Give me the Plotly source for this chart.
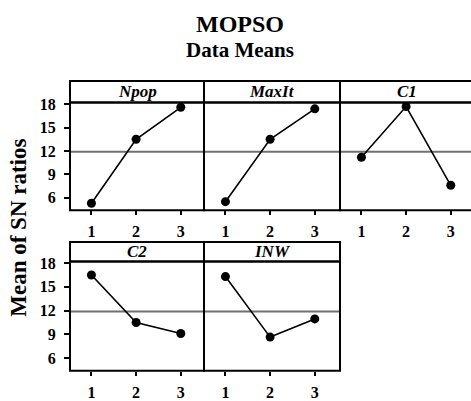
import plotly.graph_objects as go

# ---- data ----
factors = ["Npop", "MaxIt", "C1", "C2", "INW"]
levels = [1, 2, 3]
npop = [5.3, 13.5, 17.6]
maxit = [5.5, 13.5, 17.4]
c1 = [11.2, 17.7, 7.6]
c2 = [16.5, 10.5, 9.1]
inw = [16.3, 8.65, 10.95]
grand_mean = 11.9
y_ticks = [6, 9, 12, 15, 18]
series = [npop, maxit, c1, c2, inw]

W, H = 471, 401
FONT = "Liberation Serif"


def fx(x):
    return x / W


def fy(y):
    return 1 - y / H


# panel pixel geometry: (left, right, plot_top, plot_bottom, strip_top)
row1 = (98.3, 209.0, 76.0)
row2 = (261.7, 374.0, 241.7)
cols = [(70, 204), (204, 340), (340, 474)]
geom = [
    cols[0] + row1, cols[1] + row1, cols[2] + row1,
    cols[0] + row2, cols[1] + row2,
]
xr0, xr1 = 0.52, 3.52
yr = [4.4, 18.2]

fig = go.Figure()
shapes = []
annotations = []
layout = {}

for i, (name, vals, g) in enumerate(zip(factors, series, geom)):
    n = i + 1
    sx = "" if n == 1 else str(n)
    left, right, top, bottom, stop = g
    unit = (cols[0][1] - cols[0][0]) / (xr1 - xr0)
    r_vis = min(right, W)
    x_end = xr0 + (r_vis - left) / unit
    fig.add_trace(go.Scatter(
        x=levels, y=vals, mode="lines+markers",
        line=dict(color="black", width=1.6),
        marker=dict(color="black", size=9),
        xaxis="x" + sx, yaxis="y" + sx, showlegend=False, cliponaxis=False,
    ))
    first_col = left == 70
    layout["xaxis" + sx] = dict(
        domain=[fx(left), fx(r_vis)], range=[xr0, x_end], anchor="y" + sx,
        tickvals=levels, ticks="outside", ticklen=4, tickwidth=1.5, tickcolor="black",
        showline=False, showgrid=False, zeroline=False,
        tickfont=dict(family=FONT, size=16, color="black", weight="bold"),
        ticklabelstandoff=3,
    )
    layout["yaxis" + sx] = dict(
        domain=[fy(bottom), fy(top)], range=yr, anchor="x" + sx,
        tickvals=y_ticks, ticks="outside" if first_col else "", ticklen=5,
        tickwidth=1.5, tickcolor="black", showticklabels=first_col,
        showline=False, showgrid=False, zeroline=False,
        tickfont=dict(family=FONT, size=16, color="black", weight="bold"),
        ticklabelstandoff=5,
    )
    # mean reference line
    shapes.append(dict(type="line", xref="x" + sx + " domain", yref="y" + sx,
                       x0=0, x1=1, y0=grand_mean, y1=grand_mean,
                       line=dict(color="#707070", width=2), layer="below"))
    # panel box
    shapes.append(dict(type="rect", xref="paper", yref="paper",
                       x0=fx(left), x1=fx(right), y0=fy(bottom), y1=fy(top),
                       line=dict(color="black", width=2)))
    # strip box
    shapes.append(dict(type="rect", xref="paper", yref="paper",
                       x0=fx(left), x1=fx(right), y0=fy(top), y1=fy(stop),
                       line=dict(color="black", width=2)))
    annotations.append(dict(
        text="<b><i>%s</i></b>" % name, xref="paper", yref="paper",
        x=fx((left + right) / 2), y=fy((top + stop) / 2), showarrow=False,
        font=dict(family=FONT, size=17, color="black"),
        xanchor="center", yanchor="middle",
    ))

annotations += [
    dict(text="<b>MOPSO</b>", xref="paper", yref="paper", x=fx(240), y=fy(17),
         showarrow=False, font=dict(family=FONT, size=24, color="black"),
         xanchor="center", yanchor="middle"),
    dict(text="<b>Data Means</b>", xref="paper", yref="paper", x=fx(240), y=fy(44),
         showarrow=False, font=dict(family=FONT, size=21, color="black"),
         xanchor="center", yanchor="middle"),
    dict(text="<b>Mean of SN ratios</b>", xref="paper", yref="paper", x=fx(19), y=fy(227),
         showarrow=False, textangle=-90, font=dict(family=FONT, size=23, color="black"),
         xanchor="center", yanchor="middle"),
]

fig.update_layout(
    width=W, height=H, margin=dict(l=0, r=0, t=0, b=0),
    paper_bgcolor="white", plot_bgcolor="white",
    shapes=shapes, annotations=annotations, **layout,
)
fig.write_html("out.html")
